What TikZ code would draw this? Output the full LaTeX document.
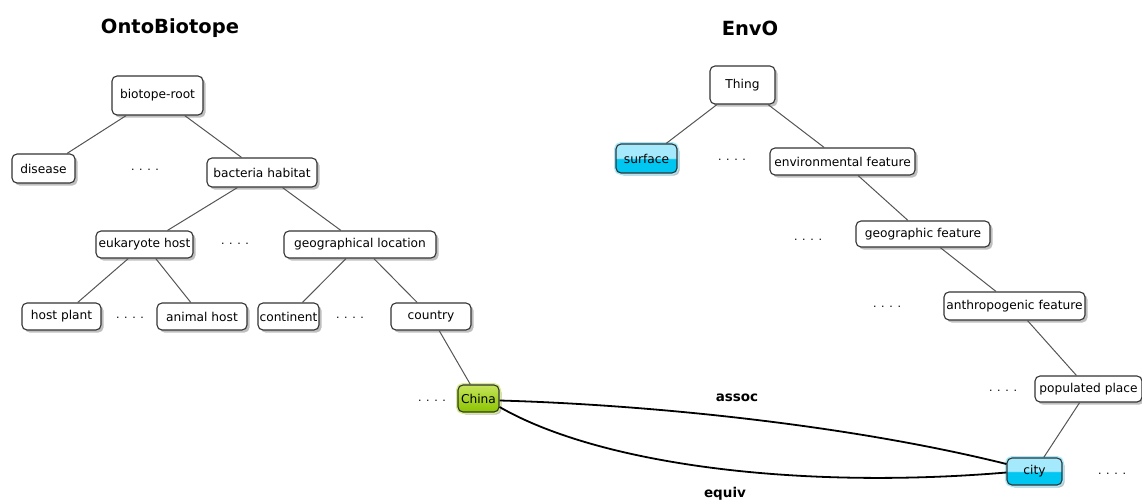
\documentclass[tikz,border=0pt]{standalone}
\usepackage{fontspec}
\setmainfont{DejaVu Sans}
\usetikzlibrary{shadows}
\definecolor{cyHi}{HTML}{A4EAFC}
\definecolor{cyLo}{HTML}{00C6F2}
\definecolor{grHi}{HTML}{C4E45A}
\definecolor{grLo}{HTML}{8CC400}
\definecolor{edgegray}{HTML}{555555}
\definecolor{boxline}{HTML}{333333}
\pgfdeclareverticalshading{glossycyan}{100bp}{color(0bp)=(cyLo); color(49bp)=(cyLo); color(51bp)=(cyHi); color(100bp)=(cyHi)}
\begin{document}
\begin{tikzpicture}[x=1pt,y=-1pt,
  every node/.style={font=\fontsize{12.2}{14}\selectfont},
  box/.style={draw=boxline, line width=1.1pt, rounded corners=5pt, fill=white,
    inner sep=0pt, drop shadow={shadow xshift=2.5pt, shadow yshift=-2.5pt, opacity=0.25, fill=black}},
  cybox/.style={box, shading=glossycyan, preaction={draw=cyHi, line width=4pt}},
  grbox/.style={box, top color=grHi, bottom color=grLo, preaction={draw=grHi!70, line width=4pt}},
  treeedge/.style={draw=edgegray, line width=1pt},
  relation/.style={draw=black, line width=1.8pt},
  dots/.style={inner sep=0pt, font=\fontsize{11}{13}\selectfont},
  title/.style={font=\fontsize{19.5}{22}\selectfont\bfseries},
  rellabel/.style={font=\fontsize{13.5}{15}\selectfont\bfseries}]
\useasboundingbox (0,0) rectangle (1142,503);

% titles
\node[title] (tOB) at (170,28) {OntoBiotope};
\node[title] (tEnv) at (750,28) {EnvO};

% OntoBiotope tree
\node[box, minimum width=91pt, minimum height=39pt] (root) at (157.5,95.5) {biotope-root};
\node[box, minimum width=63pt, minimum height=29pt] (disease) at (43.5,168.5) {disease};
\node[box, minimum width=110pt, minimum height=29pt] (bact) at (262,172.5) {bacteria habitat};
\node[box, minimum width=97pt, minimum height=27pt] (euk) at (144.5,244.5) {eukaryote host};
\node[box, minimum width=152pt, minimum height=27pt] (geo) at (360,244.5) {geographical location};
\node[box, minimum width=79pt, minimum height=27pt] (plant) at (61.5,316.5) {host plant};
\node[box, minimum width=90pt, minimum height=27pt] (animal) at (202,316.5) {animal host};
\node[box, minimum width=61pt, minimum height=27pt] (cont) at (288.5,316.5) {continent};
\node[box, minimum width=80pt, minimum height=27pt] (country) at (431,316.5) {country};
\node[grbox, minimum width=41pt, minimum height=27pt] (china) at (478.5,398.5) {China};

\node[dots] (d1) at (145,170) {. . . .};
\node[dots] (d2) at (235,244) {. . . .};
\node[dots] (d3) at (130,318) {. . . .};
\node[dots] (d4) at (350,318) {. . . .};
\node[dots] (d5) at (432,401) {. . . .};

% EnvO tree
\node[box, minimum width=65pt, minimum height=38pt] (thing) at (742.5,85) {Thing};
\node[cybox, minimum width=61pt, minimum height=29pt] (surface) at (646.5,158.5) {surface};
\node[box, minimum width=145pt, minimum height=27pt] (envf) at (842.5,161.5) {environmental feature};
\node[box, minimum width=134pt, minimum height=26pt] (geof) at (923,234) {geographic feature};
\node[box, minimum width=141pt, minimum height=28pt] (anth) at (1014.5,306) {anthropogenic feature};
\node[box, minimum width=107pt, minimum height=26pt] (pop) at (1088.5,389) {populated place};
\node[cybox, minimum width=55pt, minimum height=27pt] (city) at (1034.5,471.5) {city};

\node[dots] (d6) at (732,160) {. . . .};
\node[dots] (d7) at (808,240) {. . . .};
\node[dots] (d8) at (887,307) {. . . .};
\node[dots] (d9) at (1003,391) {. . . .};
\node[dots] (d10) at (1112,474) {. . . .};

% tree edges
\draw[treeedge] (root) -- (disease);
\draw[treeedge] (root) -- (bact);
\draw[treeedge] (bact) -- (euk);
\draw[treeedge] (bact) -- (geo);
\draw[treeedge] (euk) -- (plant);
\draw[treeedge] (euk) -- (animal);
\draw[treeedge] (geo) -- (cont);
\draw[treeedge] (geo) -- (country);
\draw[treeedge] (country) -- (china);
\draw[treeedge] (thing) -- (surface);
\draw[treeedge] (thing) -- (envf);
\draw[treeedge] (envf) -- (geof);
\draw[treeedge] (geof) -- (anth);
\draw[treeedge] (anth) -- (pop);
\draw[treeedge] (pop) -- (city);

% relations
\draw[relation] ([yshift=-2pt]china.east) .. controls +(151,4.3) and +(-157,-39) .. ([yshift=7.5pt]city.west);
\draw[relation] ([yshift=-8.5pt]china.east) .. controls +(101,58) and +(-207,17.3) .. ([yshift=-1pt]city.west);
\node[rellabel] (lassoc) at (737,398) {assoc};
\node[rellabel] (lequiv) at (725,494) {equiv};
\end{tikzpicture}
\end{document}
